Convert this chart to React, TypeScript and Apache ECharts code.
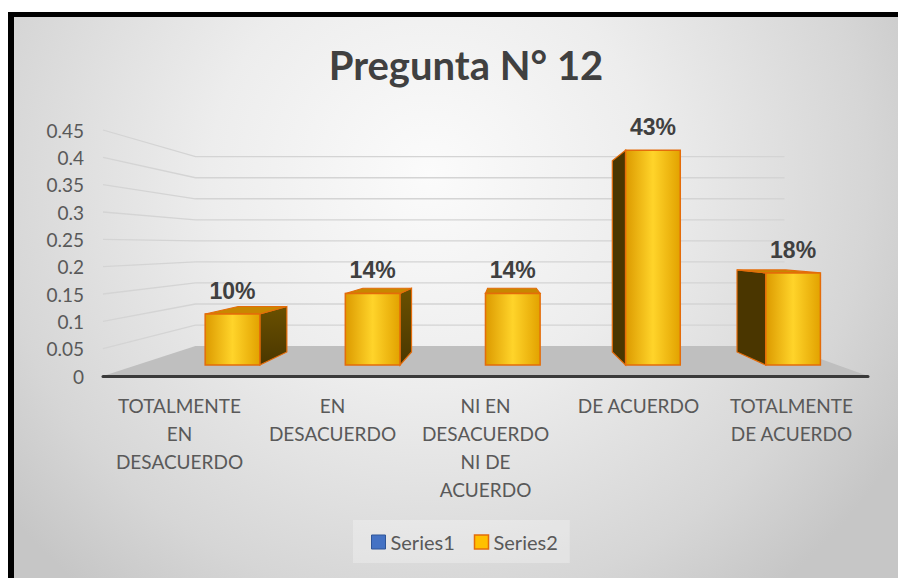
import React, { useEffect, useRef } from 'react';
import * as echarts from 'echarts';

// ---------- data ----------
const titleText = 'Pregunta N° 12';
const categories = [
  'TOTALMENTE\nEN\nDESACUERDO',
  'EN\nDESACUERDO',
  'NI EN\nDESACUERDO\nNI DE\nACUERDO',
  'DE ACUERDO',
  'TOTALMENTE\nDE ACUERDO',
];
const seriesNames = ['Series1', 'Series2'];
const series1Values: (number | null)[] = [null, null, null, null, null];
const series2Values = [0.102, 0.143, 0.143, 0.429, 0.184];
const yAxisMin = 0;
const yAxisMax = 0.45;
const yAxisInterval = 0.05;
const gridLineValues = [0.05, 0.1, 0.15, 0.2, 0.25, 0.3, 0.35, 0.4, 0.45];

// ---------- perspective / layout constants ----------
const VP_X = 505;
const VP_Y = 246;
const WALL_DEPTH = 0.77;
const BAR_FRONT = 0.916;
const BAR_BACK = 0.815;
const BAR_SHIFT = 28;
const BAR_WIDTH_RATIO = 0.39;

const project = (x: number, y: number, s: number): number[] => [
  VP_X + s * (x - VP_X),
  VP_Y + s * (y - VP_Y),
];

const labelFont = 'Lato, "Noto Sans", sans-serif';

const renderGridLine = (params: any, api: any) => {
  const cs = params.coordSys;
  const v = api.value(1);
  const yF = api.coord([0, v])[1];
  const left = cs.x;
  const right = cs.x + cs.width;
  const p1 = project(left, yF, 1);
  const p2 = project(left, yF, WALL_DEPTH);
  const p3 = project(right, yF, WALL_DEPTH);
  return {
    type: 'polyline',
    shape: { points: [p1, p2, p3] },
    style: { stroke: '#d4d4d4', lineWidth: 1.3, fill: 'none' },
    silent: true,
  };
};

const renderFloor = (params: any, api: any) => {
  const cs = params.coordSys;
  const y0 = api.coord([0, 0])[1];
  const left = cs.x;
  const right = cs.x + cs.width;
  return {
    type: 'polygon',
    shape: {
      points: [
        project(left, y0, 1),
        project(right, y0, 1),
        project(right, y0, WALL_DEPTH),
        project(left, y0, WALL_DEPTH),
      ],
    },
    style: { fill: '#bfbfbf' },
    silent: true,
  };
};

const renderBar = (params: any, api: any) => {
  const i = api.value(0);
  const v = api.value(1);
  const base = api.coord([i, 0]);
  const top = api.coord([i, v]);
  const catW = api.size([1, 0])[0];
  const w = catW * BAR_WIDTH_RATIO;
  const cx = base[0] + BAR_SHIFT;
  const xl = cx - w / 2;
  const xr = cx + w / 2;
  const yb = base[1];
  const yt = top[1];
  const fTL = project(xl, yt, BAR_FRONT);
  const fTR = project(xr, yt, BAR_FRONT);
  const fBL = project(xl, yb, BAR_FRONT);
  const fBR = project(xr, yb, BAR_FRONT);
  const bTL = project(xl, yt, BAR_BACK);
  const bTR = project(xr, yt, BAR_BACK);
  const bBL = project(xl, yb, BAR_BACK);
  const bBR = project(xr, yb, BAR_BACK);
  const edge = '#e46c0a';
  const children: any[] = [];
  if (fTR[0] < VP_X) {
    children.push({
      type: 'polygon',
      shape: { points: [fTR, bTR, bBR, fBR] },
      style: {
        fill: new echarts.graphic.LinearGradient(0, 0, 0, 1, [
          { offset: 0, color: '#6a5000' },
          { offset: 1, color: '#4a3700' },
        ]),
        stroke: edge,
        lineWidth: 1.2,
      },
    });
  }
  if (fTL[0] > VP_X) {
    children.push({
      type: 'polygon',
      shape: { points: [fTL, bTL, bBL, fBL] },
      style: { fill: '#4a3600', stroke: edge, lineWidth: 1.2 },
    });
  }
  if (fTL[1] > VP_Y) {
    children.push({
      type: 'polygon',
      shape: { points: [fTL, fTR, bTR, bTL] },
      style: { fill: '#c98700', stroke: edge, lineWidth: 1.2 },
    });
  }
  children.push({
    type: 'polygon',
    shape: { points: [fTL, fTR, fBR, fBL] },
    style: {
      fill: new echarts.graphic.LinearGradient(0, 0, 1, 0, [
        { offset: 0, color: '#dc9a00' },
        { offset: 0.5, color: '#ffd42a' },
        { offset: 1, color: '#e2a200' },
      ]),
      stroke: edge,
      lineWidth: 1.5,
    },
  });
  children.push({
    type: 'text',
    x: (fTL[0] + fTR[0]) / 2,
    y: fTL[1] - 23,
    style: {
      text: Math.round(v * 100) + '%',
      fill: '#404040',
      fontFamily: '"Liberation Sans", Arial, sans-serif',
      fontWeight: 'bold',
      fontSize: 23,
      align: 'center',
      verticalAlign: 'middle',
    },
  });
  return { type: 'group', children };
};

const option: any = {
  animation: false,
  title: {
    text: titleText,
    left: 461,
    textAlign: 'center',
    top: 40,
    textStyle: {
      fontFamily: labelFont,
      fontWeight: 'bold',
      fontSize: 40,
      color: '#404040',
    },
  },
  legend: {
    data: [
      { name: seriesNames[0], itemStyle: { color: '#4472c4', borderColor: '#2f5597', borderWidth: 1 } },
      { name: seriesNames[1], itemStyle: { color: '#ffc000', borderColor: '#e46c0a', borderWidth: 1.5 } },
    ],
    icon: 'rect',
    itemWidth: 14,
    itemHeight: 14,
    itemGap: 19,
    left: 353,
    top: 520,
    padding: [12, 12, 11, 18],
    backgroundColor: 'rgba(255,255,255,0.28)',
    selectedMode: false,
    textStyle: { fontFamily: labelFont, fontSize: 20, color: '#595959' },
  },
  grid: { left: 103, right: 30, top: 130, bottom: 202 },
  xAxis: {
    type: 'category',
    data: categories,
    z: 5,
    axisLine: { show: true, lineStyle: { color: '#3a3a3a', width: 3 } },
    axisTick: { show: false },
    splitLine: { show: false },
    axisLabel: {
      interval: 0,
      margin: 15,
      fontFamily: labelFont,
      fontSize: 19,
      lineHeight: 28,
      color: '#595959',
    },
  },
  yAxis: {
    type: 'value',
    min: yAxisMin,
    max: yAxisMax,
    interval: yAxisInterval,
    axisLine: { show: false },
    axisTick: { show: false },
    splitLine: { show: false },
    axisLabel: {
      margin: 19,
      fontFamily: labelFont,
      fontSize: 19,
      color: '#595959',
    },
  },
  series: [
    {
      type: 'custom',
      name: '_walls',
      renderItem: renderGridLine,
      data: gridLineValues.map((v) => [0, v]),
      silent: true,
      z: 1,
    },
    {
      type: 'custom',
      name: '_floor',
      renderItem: renderFloor,
      data: [[0, 0]],
      silent: true,
      z: 1,
    },
    {
      type: 'bar',
      name: seriesNames[0],
      data: series1Values,
      itemStyle: { color: '#4472c4' },
    },
    {
      type: 'custom',
      name: seriesNames[1],
      renderItem: renderBar,
      data: series2Values.map((v, i) => [i, v]),
      itemStyle: { color: '#ffc000' },
      z: 3,
    },
  ],
};

export default function App() {
  const ref = useRef<HTMLDivElement>(null);
  useEffect(() => {
    const chart = echarts.init(ref.current!, undefined, { renderer: 'svg' });
    chart.setOption(option);
    return () => chart.dispose();
  }, []);
  return (
    <div style={{ position: 'absolute', left: 0, top: 0, width: 898, height: 578, background: '#ffffff', overflow: 'hidden' }}>
      <div
        style={{
          position: 'absolute',
          left: 8,
          top: 12,
          width: 890,
          height: 566,
          boxSizing: 'border-box',
          borderLeft: '6px solid #000',
          borderTop: '5px solid #000',
          background: 'radial-gradient(ellipse 62% 95% at 47% 28%, #fbfbfb 0%, #ededed 40%, #d6d6d6 80%, #c6c6c6 100%)',
        }}
      />
      <div ref={ref} style={{ position: 'absolute', left: 0, top: 0, width: 898, height: 578 }} />
    </div>
  );
}
